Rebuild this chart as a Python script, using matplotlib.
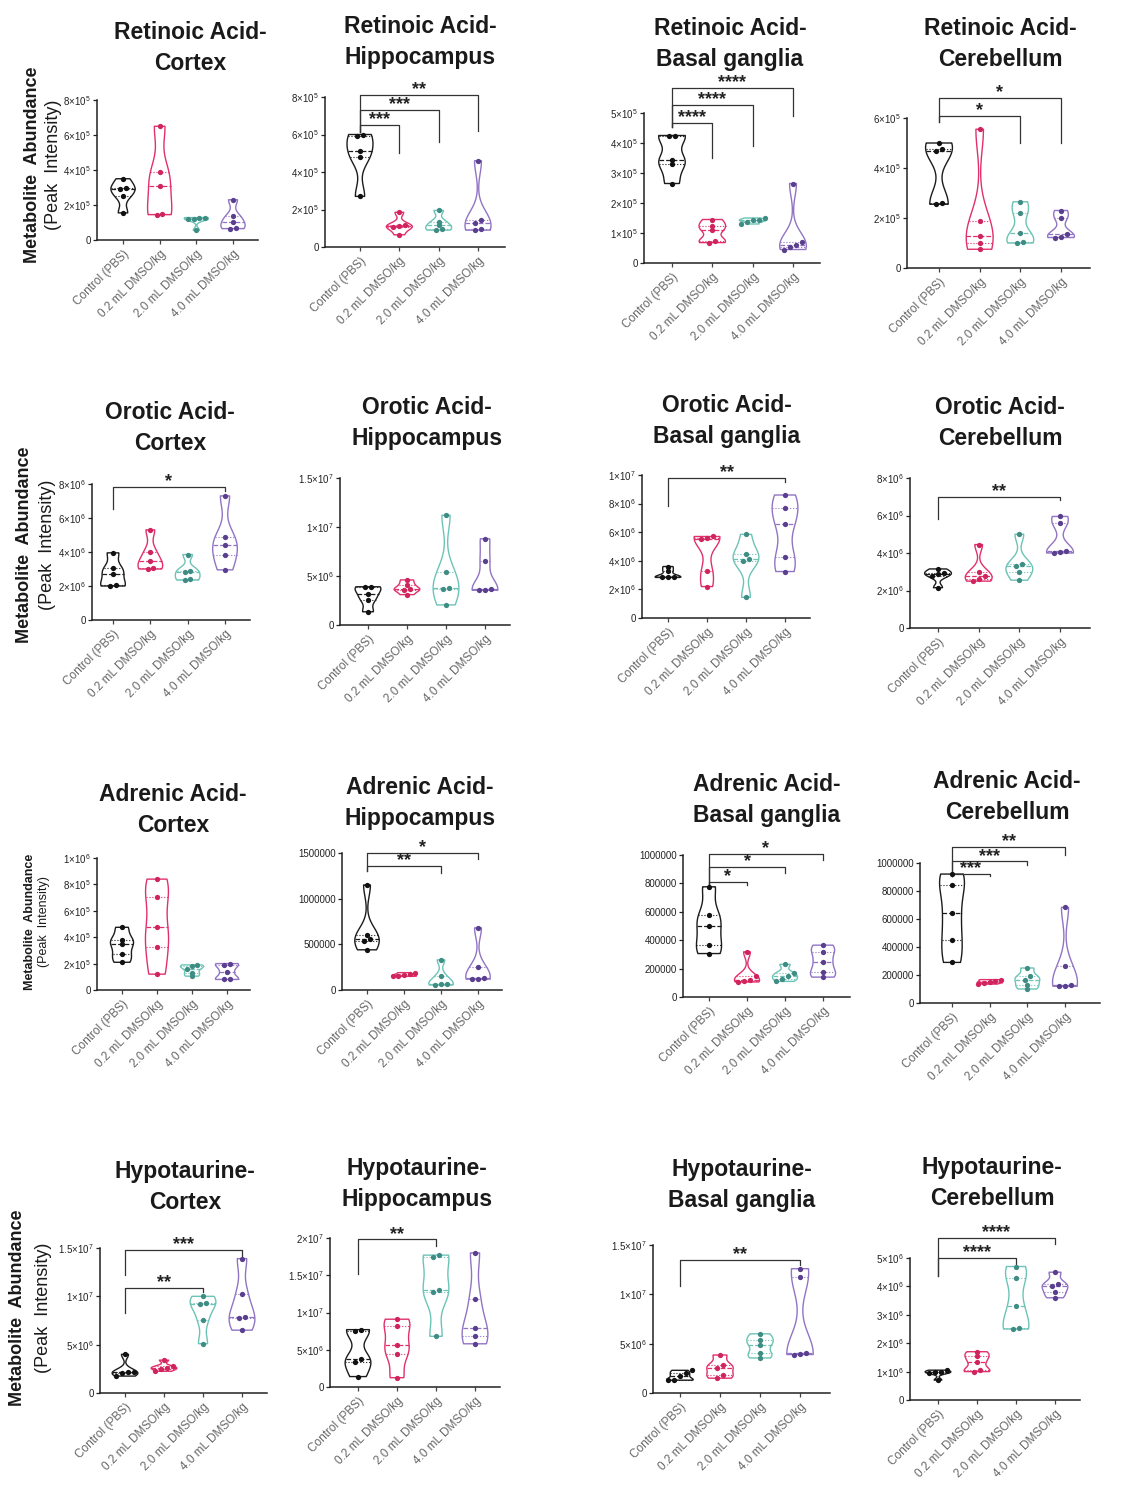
import numpy as np
import matplotlib.pyplot as plt
from matplotlib.ticker import FixedLocator, FuncFormatter

plt.rcParams['font.family'] = ['Liberation Sans', 'DejaVu Sans']
plt.rcParams['mathtext.fontset'] = 'custom'
plt.rcParams['mathtext.rm'] = 'Liberation Sans'
plt.rcParams['mathtext.it'] = 'Liberation Sans:italic'
plt.rcParams['mathtext.bf'] = 'Liberation Sans:bold'

W, H = 1127, 1500

groups = ["Control (PBS)", "0.2 mL DMSO/kg", "2.0 mL DMSO/kg", "4.0 mL DMSO/kg"]
edge_colors = ["#1c1c1c", "#e2306c", "#6cc4b6", "#9274c4"]
dot_colors = ["#111111", "#d0245c", "#3f8c84", "#5a3f8e"]

# peak intensities, five animals per group (control, 0.2, 2.0, 4.0 mL/kg)
ra_cortex = [[3.5e5, 3.0e5, 2.9e5, 2.5e5, 1.55e5],
             [6.5e5, 3.9e5, 3.1e5, 1.5e5, 1.45e5],
             [1.28e5, 1.25e5, 1.22e5, 1.2e5, 0.55e5],
             [2.3e5, 1.35e5, 1.05e5, 0.7e5, 0.65e5]]
ra_hippo = [[6.0e5, 5.9e5, 5.1e5, 4.8e5, 2.7e5],
            [1.85e5, 1.15e5, 1.1e5, 1.05e5, 0.65e5],
            [1.95e5, 1.35e5, 1.15e5, 0.95e5, 0.9e5],
            [4.6e5, 1.45e5, 1.3e5, 0.95e5, 0.9e5]]
ra_basal = [[4.25e5, 4.22e5, 3.45e5, 3.3e5, 2.65e5],
            [1.45e5, 1.25e5, 1.1e5, 0.75e5, 0.68e5],
            [1.5e5, 1.45e5, 1.42e5, 1.38e5, 1.3e5],
            [2.65e5, 0.7e5, 0.6e5, 0.55e5, 0.45e5]]
ra_cereb = [[5.0e5, 4.75e5, 4.7e5, 2.6e5, 2.55e5],
            [5.55e5, 1.9e5, 1.3e5, 1.0e5, 0.75e5],
            [2.65e5, 2.2e5, 1.4e5, 1.05e5, 1.0e5],
            [2.3e5, 2.0e5, 1.35e5, 1.25e5, 1.22e5]]

oa_cortex = [[3.95e6, 3.05e6, 2.7e6, 2.05e6, 2.0e6],
             [5.3e6, 4.0e6, 3.45e6, 3.05e6, 3.0e6],
             [3.85e6, 2.9e6, 2.85e6, 2.4e6, 2.35e6],
             [7.3e6, 4.9e6, 4.4e6, 3.8e6, 2.95e6]]
oa_hippo = [[3.9e6, 3.85e6, 3.2e6, 2.55e6, 1.35e6],
            [4.6e6, 4.1e6, 3.65e6, 3.6e6, 3.1e6],
            [11.2e6, 5.4e6, 3.8e6, 3.7e6, 2.05e6],
            [8.8e6, 6.5e6, 3.65e6, 3.6e6, 3.55e6]]
oa_basal = [[3.6e6, 3.3e6, 2.9e6, 2.85e6, 2.85e6],
            [5.7e6, 5.6e6, 5.55e6, 3.3e6, 2.2e6],
            [5.85e6, 4.5e6, 4.1e6, 4.0e6, 1.45e6],
            [8.6e6, 7.7e6, 6.6e6, 4.3e6, 3.25e6]]
oa_cereb = [[3.15e6, 2.95e6, 2.9e6, 2.75e6, 2.15e6],
            [4.45e6, 3.0e6, 2.75e6, 2.6e6, 2.5e6],
            [5.0e6, 3.4e6, 3.3e6, 3.0e6, 2.55e6],
            [5.95e6, 5.6e6, 4.1e6, 4.05e6, 4.0e6]]

ad_cortex = [[4.75e5, 3.8e5, 3.5e5, 2.7e5, 2.1e5],
             [8.4e5, 7.05e5, 4.75e5, 3.25e5, 1.2e5],
             [1.9e5, 1.8e5, 1.6e5, 1.3e5, 1.05e5],
             [2.0e5, 1.9e5, 1.4e5, 0.85e5, 0.8e5]]
ad_hippo = [[1150000, 600000, 560000, 540000, 440000],
            [190000, 175000, 165000, 155000, 150000],
            [330000, 150000, 70000, 65000, 55000],
            [680000, 250000, 130000, 125000, 120000]]
ad_basal = [[776000, 576000, 500000, 365000, 306000],
            [318000, 146000, 122000, 113000, 106000],
            [230000, 170000, 150000, 130000, 110000],
            [365000, 318000, 247000, 176000, 140000]]
ad_cereb = [[921000, 845000, 643000, 452000, 290000],
            [167000, 160000, 150000, 145000, 135000],
            [250000, 190000, 167000, 130000, 100000],
            [683000, 262000, 131000, 125000, 120000]]

ht_cortex = [[4.0e6, 2.2e6, 2.15e6, 2.05e6, 1.75e6],
             [3.4e6, 2.75e6, 2.6e6, 2.5e6, 2.25e6],
             [10.0e6, 9.35e6, 9.25e6, 7.6e6, 5.1e6],
             [13.9e6, 10.2e6, 7.9e6, 7.8e6, 6.5e6]]
ht_hippo = [[7.7e6, 7.5e6, 3.7e6, 3.4e6, 1.4e6],
            [9.1e6, 8.2e6, 5.7e6, 4.4e6, 1.25e6],
            [17.7e6, 17.5e6, 13.0e6, 12.7e6, 6.8e6],
            [18.0e6, 11.8e6, 7.9e6, 6.9e6, 5.8e6]]
ht_basal = [[2.3e6, 2.0e6, 1.7e6, 1.35e6, 1.3e6],
            [3.85e6, 2.85e6, 2.5e6, 1.85e6, 1.5e6],
            [6.0e6, 5.4e6, 4.9e6, 4.05e6, 3.55e6],
            [12.6e6, 11.8e6, 4.05e6, 3.95e6, 3.9e6]]
ht_cereb = [[1.05e6, 1.0e6, 0.98e6, 0.95e6, 0.7e6],
            [1.7e6, 1.55e6, 1.35e6, 1.05e6, 1.0e6],
            [4.7e6, 4.3e6, 3.3e6, 2.55e6, 2.5e6],
            [4.5e6, 4.1e6, 4.0e6, 3.8e6, 3.6e6]]

# y ticks per panel
ra_ticks = [0, 2e5, 4e5, 6e5, 8e5]
ra_basal_ticks = [0, 1e5, 2e5, 3e5, 4e5, 5e5]
ra_cereb_ticks = [0, 2e5, 4e5, 6e5]
oa_ticks = [0, 2e6, 4e6, 6e6, 8e6]
oa_hippo_ticks = [0, 5e6, 1e7, 1.5e7]
oa_basal_ticks = [0, 2e6, 4e6, 6e6, 8e6, 1e7]
ad_cortex_ticks = [0, 2e5, 4e5, 6e5, 8e5, 1e6]
ad_hippo_ticks = [0, 500000, 1000000, 1500000]
ad_ticks = [0, 200000, 400000, 600000, 800000, 1000000]
ht_ticks = [0, 5e6, 1e7, 1.5e7]
ht_hippo_ticks = [0, 5e6, 1e7, 1.5e7, 2e7]
ht_cereb_ticks = [0, 1e6, 2e6, 3e6, 4e6, 5e6]

# significance brackets: (group a, group b, bar y, left leg end, right leg end, label)
ra_hippo_sig = [(0, 1, 6.5e5, 6.15e5, 5.0e5, "***"),
                (0, 2, 7.3e5, 6.15e5, 5.6e5, "***"),
                (0, 3, 8.1e5, 6.15e5, 6.2e5, "**")]
ra_basal_sig = [(0, 1, 4.67e5, 4.55e5, 3.5e5, "****"),
                (0, 2, 5.28e5, 4.55e5, 3.9e5, "****"),
                (0, 3, 5.83e5, 4.55e5, 4.9e5, "****")]
ra_cereb_sig = [(0, 2, 6.07e5, 5.85e5, 5.0e5, "*"),
                (0, 3, 6.8e5, 5.85e5, 5.0e5, "*")]
oa_cortex_sig = [(0, 3, 7.85e6, 6.55e6, 7.6e6, "*")]
oa_basal_sig = [(0, 3, 9.77e6, 7.8e6, 9.5e6, "**")]
oa_cereb_sig = [(0, 3, 7.0e6, 5.8e6, 6.85e6, "**")]
ad_hippo_sig = [(0, 2, 1.36e6, 1.3e6, 1.28e6, "**"),
                (0, 3, 1.5e6, 1.3e6, 1.43e6, "*")]
ad_basal_sig = [(0, 1, 812000, 790000, 790000, "*"),
                (0, 2, 918000, 790000, 870000, "*"),
                (0, 3, 1005000, 790000, 965000, "*")]
ad_cereb_sig = [(0, 1, 921000, 905000, 905000, "***"),
                (0, 2, 1012000, 905000, 988000, "***"),
                (0, 3, 1114000, 905000, 1060000, "**")]
ht_cortex_sig = [(0, 2, 10.9e6, 8.3e6, 10.4e6, "**"),
                 (0, 3, 14.8e6, 12.2e6, 14.1e6, "***")]
ht_hippo_sig = [(0, 2, 19.8e6, 15.2e6, 18.9e6, "**")]
ht_basal_sig = [(0, 3, 13.5e6, 10.8e6, 12.95e6, "**")]
ht_cereb_sig = [(0, 2, 5.0e6, 4.35e6, 4.7e6, "****"),
                (0, 3, 5.7e6, 4.35e6, 5.5e6, "****")]

# box = (y-axis x, first group x, last group x, x-axis end, top tick y, zero y) in pixels
panels = [
    ("Retinoic Acid-\nCortex", ra_cortex, ra_ticks, "sci", [], (97, 123, 233, 258, 100, 240), (190, 48)),
    ("Retinoic Acid-\nHippocampus", ra_hippo, ra_ticks, "sci", ra_hippo_sig, (325, 360, 478, 505, 97, 247), (420, 42)),
    ("Retinoic Acid-\nBasal ganglia", ra_basal, ra_basal_ticks, "sci", ra_basal_sig, (644, 672, 793, 820, 113, 263), (730, 44)),
    ("Retinoic Acid-\nCerebellum", ra_cereb, ra_cereb_ticks, "sci", ra_cereb_sig, (907, 939, 1061, 1090, 118, 268), (1000, 44)),
    ("Orotic Acid-\nCortex", oa_cortex, oa_ticks, "sci", oa_cortex_sig, (92, 113, 225, 250, 484, 620), (170, 428)),
    ("Orotic Acid-\nHippocampus", oa_hippo, oa_hippo_ticks, "sci", [], (340, 368, 485, 510, 478, 625), (427, 423)),
    ("Orotic Acid-\nBasal ganglia", oa_basal, oa_basal_ticks, "sci", oa_basal_sig, (642, 668, 785, 810, 475, 618), (727, 421)),
    ("Orotic Acid-\nCerebellum", oa_cereb, oa_ticks, "sci", oa_cereb_sig, (910, 938, 1060, 1090, 478, 628), (1000, 423)),
    ("Adrenic Acid-\nCortex", ad_cortex, ad_cortex_ticks, "sci", [], (97, 122, 227, 250, 858, 990), (173, 810)),
    ("Adrenic Acid-\nHippocampus", ad_hippo, ad_hippo_ticks, "plain", ad_hippo_sig, (342, 367, 478, 502, 853, 990), (420, 803)),
    ("Adrenic Acid-\nBasal ganglia", ad_basal, ad_ticks, "plain", ad_basal_sig, (683, 709, 823, 850, 855, 997), (767, 800)),
    ("Adrenic Acid-\nCerebellum", ad_cereb, ad_ticks, "plain", ad_cereb_sig, (920, 952, 1065, 1100, 863, 1003), (1007, 797)),
    ("Hypotaurine-\nCortex", ht_cortex, ht_ticks, "sci", ht_cortex_sig, (100, 125, 242, 267, 1248, 1393), (185, 1187)),
    ("Hypotaurine-\nHippocampus", ht_hippo, ht_hippo_ticks, "sci", ht_hippo_sig, (330, 358, 475, 500, 1238, 1387), (417, 1184)),
    ("Hypotaurine-\nBasal ganglia", ht_basal, ht_ticks, "sci", ht_basal_sig, (653, 680, 800, 830, 1245, 1393), (742, 1185)),
    ("Hypotaurine-\nCerebellum", ht_cereb, ht_cereb_ticks, "sci", ht_cereb_sig, (910, 938, 1055, 1080, 1258, 1400), (992, 1183)),
]


def sci_label(v, pos=None):
    if v == 0:
        return "0"
    e = int(np.floor(np.log10(v) + 1e-9))
    m = v / 10 ** e
    return f"{m:g}×10$^{{{e}}}$"


def plain_label(v, pos=None):
    return f"{int(round(v))}"


def spread(vals, tol, step=0.15):
    # side-by-side offsets for points with nearly equal values
    vals = np.asarray(vals, dtype=float)
    order = np.argsort(vals)
    xs = np.zeros(len(vals))
    clusters = []
    for idx in order:
        if clusters and vals[idx] - vals[clusters[-1][-1]] < tol:
            clusters[-1].append(idx)
        else:
            clusters.append([idx])
    for c in clusters:
        n = len(c)
        for m, idx in enumerate(c):
            xs[idx] = (m - (n - 1) / 2) * step
    return xs


fig = plt.figure(figsize=(W / 100, H / 100), dpi=100)

for title, data, ticks, fmt, sig, box, tpos in panels:
    left, c0, c3, right, top, zero = box
    sp = (c3 - c0) / 3
    ax = fig.add_axes([left / W, 1 - zero / H, (right - left) / W, (zero - top) / H])
    ax.set_xlim((left - c0) / sp, 3 + (right - c3) / sp)
    ymax = ticks[-1]
    ax.set_ylim(0, ymax)

    parts = ax.violinplot(data, positions=range(4), widths=0.66,
                          showextrema=False, bw_method=0.45)
    for k, body in enumerate(parts['bodies']):
        body.set_facecolor('none')
        body.set_edgecolor(edge_colors[k])
        body.set_linewidth(1.0)
        body.set_alpha(1)
        verts = body.get_paths()[0].vertices
        rside = verts[verts[:, 0] >= k]
        rside = rside[np.argsort(rside[:, 1])]
        q1, med, q3 = np.percentile(data[k], [25, 50, 75])
        for q, ls, lw in [(q1, ':', 0.8), (med, '--', 0.9), (q3, ':', 0.8)]:
            hw = np.interp(q, rside[:, 1], rside[:, 0]) - k
            ax.plot([k - hw, k + hw], [q, q], ls=ls, lw=lw, color=edge_colors[k])
        xs = k + spread(data[k], 0.025 * ymax)
        ax.plot(xs, data[k], 'o', ms=3.8, color=dot_colors[k], mec='none', zorder=3)

    for a, b, yb, yl, yr, txt in sig:
        ax.plot([a, a, b, b], [yl, yb, yb, yr], color='#333333', lw=0.9, clip_on=False)
        ax.text((a + b) / 2, yb + 0.005 * ymax, txt, ha='center', va='baseline',
                fontsize=13, fontweight='bold', color='#222222', clip_on=False)

    for s in ('top', 'right'):
        ax.spines[s].set_visible(False)
    for s in ('left', 'bottom'):
        ax.spines[s].set_linewidth(1.1)
        ax.spines[s].set_color('#222222')
    ax.yaxis.set_major_locator(FixedLocator(ticks))
    ax.yaxis.set_major_formatter(FuncFormatter(sci_label if fmt == "sci" else plain_label))
    ax.tick_params(axis='y', length=3, width=0.9, labelsize=7, pad=1.5, colors='#222222')
    ax.set_xticks(range(4))
    ax.set_xticklabels(groups, rotation=45, ha='right', rotation_mode='anchor',
                       fontsize=8.5, color='#666666')
    ax.tick_params(axis='x', length=3, width=0.9, pad=3, color='#444444')

    fig.text(tpos[0] / W, 1 - tpos[1] / H, title, ha='center', va='center',
             fontsize=16.5, fontweight='bold', linespacing=1.45, color='#1a1a1a')

# row y-axis labels
for xb, xr, yc, fs in [(33, 54, 165, 13), (25, 48, 545, 13), (30, 44, 922, 9), (18, 43, 1308, 13)]:
    fig.text(xb / W, 1 - yc / H, "Metabolite  Abundance", rotation=90, ha='center', va='center',
             fontsize=fs, fontweight='bold', color='#1a1a1a')
    fig.text(xr / W, 1 - yc / H, "(Peak  Intensity)", rotation=90, ha='center', va='center',
             fontsize=fs, color='#1a1a1a')

fig.savefig("out.png", dpi=100, facecolor='white')
